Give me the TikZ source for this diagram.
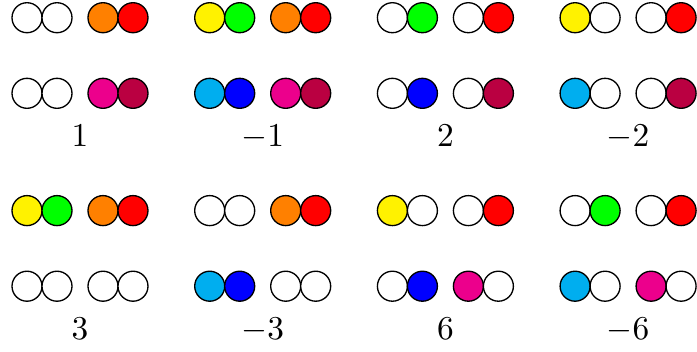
\documentclass[tikz,border=0pt]{standalone}
\usepackage{tikz}
\usetikzlibrary{positioning}
\definecolor{dotyellow}{HTML}{FFF200}
\definecolor{dotgreen}{HTML}{00FF00}
\definecolor{dotorange}{HTML}{FF8000}
\definecolor{dotred}{HTML}{FF0000}
\definecolor{dotcyan}{HTML}{00AEEF}
\definecolor{dotblue}{HTML}{0000FF}
\definecolor{dotmagenta}{HTML}{EC008C}
\definecolor{dotwine}{HTML}{BA0041}
\tikzset{
    stone/.style={circle, draw=black, minimum size=9pt, inner sep=0pt},
    lbl/.style={inner sep=1pt, anchor=base}
}

\begin{document}
\begin{tikzpicture}[x=9pt, y=9pt]
    \useasboundingbox (0,0) rectangle (23.233,-11.7);
    % one block: two rows of two pairs, value below
    \foreach \k/\bx/\by/\lab/\ca/\cb/\cc/\cd/\ce/\cf/\cg/\ch in {
        p/0.9/-0.59/1/white/white/dotorange/dotred/white/white/dotmagenta/dotwine,
        m/6.99/-0.59/-1/dotyellow/dotgreen/dotorange/dotred/dotcyan/dotblue/dotmagenta/dotwine,
        pb/13.08/-0.59/2/white/dotgreen/white/dotred/white/dotblue/white/dotwine,
        mb/19.17/-0.59/-2/dotyellow/white/white/dotred/dotcyan/white/white/dotwine,
        pc/0.9/-7.02/3/dotyellow/dotgreen/dotorange/dotred/white/white/white/white,
        mc/6.99/-7.02/-3/white/white/dotorange/dotred/dotcyan/dotblue/white/white,
        pf/13.08/-7.02/6/dotyellow/white/white/dotred/white/dotblue/dotmagenta/white,
        mf/19.17/-7.02/-6/white/dotgreen/white/dotred/dotcyan/white/dotmagenta/white}{
        \node[stone, fill=\ca] (\k-1) at (\bx,\by) {};
        \node[stone, fill=\cb] (\k-2) at (\bx+1,\by) {};
        \node[stone, fill=\cc] (\k-3) at (\bx+2.533,\by) {};
        \node[stone, fill=\cd] (\k-4) at (\bx+3.533,\by) {};
        \node[stone, fill=\ce] (\k-5) at (\bx,\by-2.52) {};
        \node[stone, fill=\cf] (\k-6) at (\bx+1,\by-2.52) {};
        \node[stone, fill=\cg] (\k-7) at (\bx+2.533,\by-2.52) {};
        \node[stone, fill=\ch] (\k-8) at (\bx+3.533,\by-2.52) {};
        \node[lbl] (\k-val) at (\bx+1.767,\by-4.30) {$\lab$};
    }
\end{tikzpicture}
\end{document}
